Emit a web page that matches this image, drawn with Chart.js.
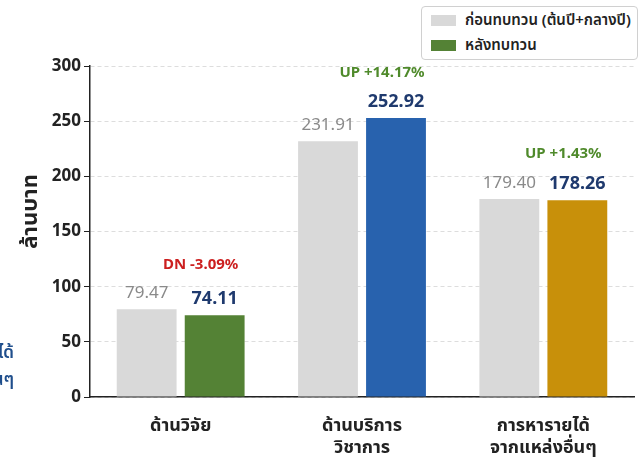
<!DOCTYPE html>
<html>
<head>
<meta charset="utf-8">
<script src="https://cdn.jsdelivr.net/npm/chart.js@4.4.0/dist/chart.umd.min.js"></script>
<style>
  html, body { margin: 0; padding: 0; background: #fff; }
  #wrap { position: relative; width: 638px; height: 459px; overflow: hidden; }
  #legend {
    position: absolute; left: 421px; top: 6px; width: 215px; height: 52px;
    border: 1px solid #d0d0d0; border-radius: 4px; background: #fff;
    font-family: "Noto Sans", "Noto Sans Thai", sans-serif; font-size: 15px; font-weight: 600; color: #222;
  }
  .item { position: absolute; left: 9px; display: flex; align-items: center; white-space: nowrap; }
  .sw { width: 25px; height: 11px; margin-right: 9px; }
  #side {
    position: absolute; right: 624px; font-family: "Noto Sans", "Noto Sans Thai", sans-serif;
    font-size: 17px; font-weight: 600; color: #1f4e8c; white-space: nowrap; text-align: right; line-height: 27px;
  }
</style>
</head>
<body>
<div id="wrap">
  <canvas id="chart" width="638" height="459"></canvas>
  <div id="side" style="top:338px">การหารายได้<br>จากแหล่งอื่นๆ</div>
  <div id="legend">
    <div class="item" style="top:2px"><span class="sw" style="background:#d9d9d9"></span>ก่อนทบทวน (ต้นปี+กลางปี)</div>
    <div class="item" style="top:27px"><span class="sw" style="background:#548235"></span>หลังทบทวน</div>
  </div>
</div>
<script>
const categories = [['ด้านวิจัย'], ['ด้านบริการ', 'วิชาการ'], ['การหารายได้', 'จากแหล่งอื่นๆ']];
const beforeValues = [79.47, 231.91, 179.40];
const afterValues = [74.11, 252.92, 178.26];
const changeLabels = ['DN -3.09%', 'UP +14.17%', 'UP +1.43%'];
const yTicks = [0, 50, 100, 150, 200, 250, 300];
const yTitle = 'ล้านบาท';

const FONT = '"Noto Sans", "Noto Sans Thai", sans-serif';
const afterColors = ['#548235', '#2862ae', '#c8900a'];

// value labels above bars + change notes + y title
const labelPlugin = {
  id: 'labels',
  afterDatasetsDraw(chart) {
    const ctx = chart.ctx;
    const m0 = chart.getDatasetMeta(0).data;
    const m1 = chart.getDatasetMeta(1).data;
    ctx.save();
    ctx.textAlign = 'center';
    ctx.textBaseline = 'middle';
    m0.forEach((bar, i) => {
      ctx.font = '400 17px ' + FONT;
      ctx.fillStyle = '#8a8a8a';
      ctx.fillText(beforeValues[i].toFixed(2), bar.x, bar.y - 16);
    });
    m1.forEach((bar, i) => {
      ctx.font = '700 18px ' + FONT;
      ctx.fillStyle = '#1f3a6e';
      ctx.fillText(afterValues[i].toFixed(2), bar.x, bar.y - 16);
      const top = Math.min(bar.y, m0[i].y);
      ctx.font = '700 15px ' + FONT;
      ctx.fillStyle = changeLabels[i].startsWith('DN') ? '#cc1f1f' : '#4f8a2b';
      ctx.fillText(changeLabels[i], bar.x - 14, top - 45);
    });
    // axis title, sits a bit above the middle of the axis
    const area = chart.chartArea;
    ctx.translate(31, (area.top + area.bottom) / 2 - 20);
    ctx.rotate(-Math.PI / 2);
    ctx.font = '700 22px ' + FONT;
    ctx.fillStyle = '#222';
    ctx.fillText(yTitle, 0, 0);
    ctx.restore();
  }
};

new Chart(document.getElementById('chart'), {
  type: 'bar',
  data: {
    labels: categories,
    datasets: [
      { label: 'ก่อนทบทวน (ต้นปี+กลางปี)', data: beforeValues, backgroundColor: '#d9d9d9' },
      { label: 'หลังทบทวน', data: afterValues, backgroundColor: afterColors }
    ]
  },
  options: {
    responsive: false,
    animation: false,
    layout: { padding: { top: 66, right: 4, left: 0, bottom: 0 } },
    categoryPercentage: 0.75,
    barPercentage: 0.88,
    plugins: { legend: { display: false }, tooltip: { enabled: false } },
    scales: {
      x: {
        grid: { display: false },
        border: { color: '#222', width: 1.5 },
        ticks: { color: '#222', font: { family: FONT, size: 18, weight: '700' }, padding: 10 },
        afterFit(scale) { scale.height = 62; }
      },
      y: {
        min: 0, max: 300,
        afterBuildTicks(scale) { scale.ticks = yTicks.map(v => ({ value: v })); },
        grid: { color: '#dddddd', tickColor: '#222', tickLength: 6, tickBorderDash: [] },
        border: { color: '#222', width: 1.5, dash: [4, 3] },
        ticks: { color: '#222', font: { family: FONT, size: 17, weight: '700' }, padding: 3 },
        afterFit(scale) { scale.width = 90; }
      }
    }
  },
  plugins: [labelPlugin]
});
</script>
</body>
</html>
